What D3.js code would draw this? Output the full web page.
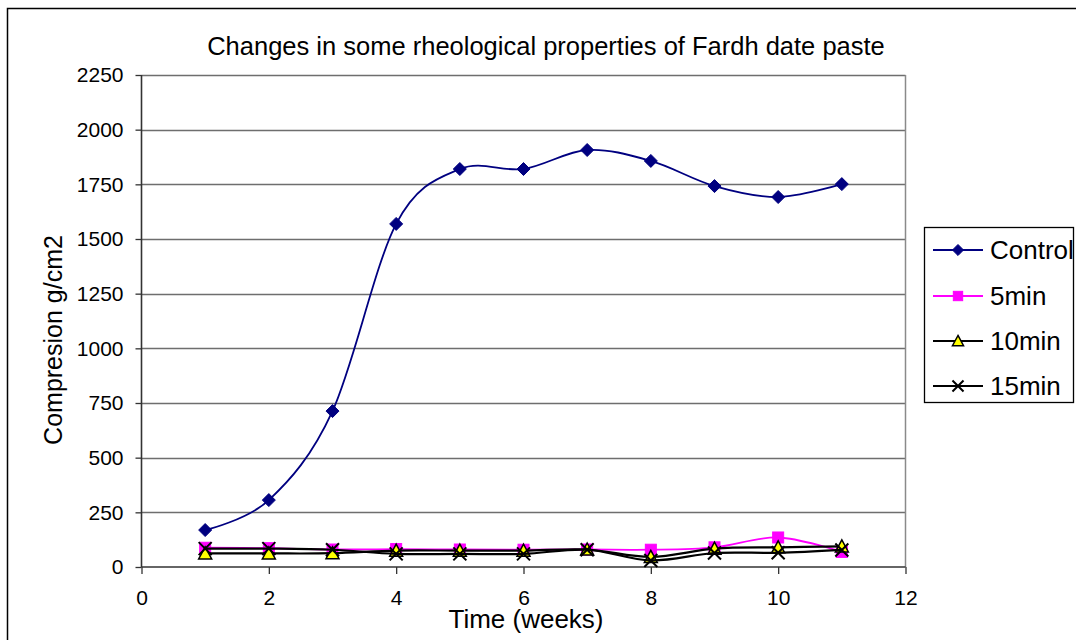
<!DOCTYPE html>
<html>
<head>
<meta charset="utf-8">
<script src="https://cdn.jsdelivr.net/npm/d3@7"></script>
<style>
  html, body { margin: 0; padding: 0; background: #fff; }
  svg { display: block; font-family: "Liberation Sans", Arial, sans-serif; }
</style>
</head>
<body>
<svg id="chart" width="1076" height="640"></svg>
<script>
// Weeks of storage
const weeks = [1, 2, 3, 4, 5, 6, 7, 8, 9, 10, 11];

// Compression (g/cm2) per treatment
const control = [169, 306, 713, 1569, 1820, 1820, 1907, 1857, 1742, 1692, 1751];
const min5    = [88, 86, 80, 82, 80, 79, 80, 79, 90, 135, 69];
const min10   = [62, 62, 63, 75, 75, 75, 80, 46, 84, 90, 94];
const min15   = [84, 84, 79, 60, 60, 60, 79, 30, 64, 65, 78];

const seriesNames = ["Control", "5min", "10min", "15min"];
const yTicks = [0, 250, 500, 750, 1000, 1250, 1500, 1750, 2000, 2250];
const xTicks = [0, 2, 4, 6, 8, 10, 12];

const titleText = "Changes in some rheological properties of Fardh date paste";
const xTitle = "Time (weeks)";
const yTitle = "Compresion g/cm2";

const svg = d3.select("#chart");

// chart frame
svg.append("rect")
  .attr("x", 7.5).attr("y", 8.5)
  .attr("width", 1100).attr("height", 700)
  .attr("fill", "#fff").attr("stroke", "#000").attr("stroke-width", 1.5);

const plot = { left: 141.5, right: 905.5, top: 75, bottom: 567 };

const x = d3.scaleLinear().domain([0, 12]).range([plot.left, plot.right]);
const y = d3.scaleLinear().domain([0, 2250]).range([plot.bottom, plot.top]);

// horizontal gridlines
svg.append("g")
  .selectAll("line")
  .data(yTicks.filter(d => d > 0))
  .join("line")
  .attr("x1", plot.left).attr("x2", plot.right)
  .attr("y1", d => Math.round(y(d)) + 0.5).attr("y2", d => Math.round(y(d)) + 0.5)
  .attr("stroke", "#6e6e6e").attr("stroke-width", 1.3);

// right border of plot area
svg.append("line")
  .attr("x1", plot.right).attr("x2", plot.right)
  .attr("y1", plot.top).attr("y2", plot.bottom)
  .attr("stroke", "#8a8a8a").attr("stroke-width", 1.5);

// axes
const yAxis = d3.axisLeft(y).tickValues(yTicks).tickSize(6).tickPadding(12).tickFormat(d3.format("d"));
const xAxis = d3.axisBottom(x).tickValues(xTicks).tickSize(7).tickPadding(16).tickFormat(d3.format("d"));

const gy = svg.append("g").attr("transform", `translate(${plot.left},0)`).call(yAxis);
const gx = svg.append("g").attr("transform", `translate(0,${plot.bottom})`).call(xAxis);

[gx, gy].forEach(g => {
  g.select(".domain").attr("stroke", "#333").attr("stroke-width", 1.6);
  g.selectAll(".tick line").attr("stroke", "#333").attr("stroke-width", 1.3);
  g.selectAll(".tick text")
    .attr("fill", "#000")
    .attr("font-family", "'Liberation Sans', Arial, sans-serif")
    .attr("font-size", 21);
});
gy.select(".domain").attr("d", `M0,${plot.top}V${plot.bottom}`);
gx.select(".domain").attr("d", `M${plot.left},0H${plot.right}`);

// titles
svg.append("text")
  .attr("x", 546).attr("y", 55)
  .attr("text-anchor", "middle")
  .attr("font-size", 25.5)
  .text(titleText);

svg.append("text")
  .attr("x", 526).attr("y", 628)
  .attr("text-anchor", "middle")
  .attr("font-size", 26)
  .text(xTitle);

svg.append("text")
  .attr("transform", "translate(62,340) rotate(-90)")
  .attr("text-anchor", "middle")
  .attr("font-size", 25)
  .text(yTitle);

// series
const curve = d3.curveCatmullRom.alpha(0);
const lineGen = d3.line().x(d => x(d[0])).y(d => y(d[1])).curve(curve);

const series = [
  { name: seriesNames[0], values: control, color: "#000080", width: 1.8, marker: "diamond" },
  { name: seriesNames[1], values: min5,    color: "#ff00ff", width: 1.8, marker: "square" },
  { name: seriesNames[2], values: min10,   color: "#000000", width: 2.2, marker: "triangle" },
  { name: seriesNames[3], values: min15,   color: "#000000", width: 2.2, marker: "cross" }
];

function drawMarker(g, type, cx, cy, scale) {
  const s = scale || 1;
  if (type === "diamond") {
    const r = 6.5 * s;
    g.append("path")
      .attr("d", `M${cx},${cy - r}L${cx + r},${cy}L${cx},${cy + r}L${cx - r},${cy}Z`)
      .attr("fill", "#000080").attr("stroke", "#000080").attr("stroke-width", 1);
  } else if (type === "square") {
    const r = 5.5 * s;
    g.append("rect")
      .attr("x", cx - r).attr("y", cy - r).attr("width", 2 * r).attr("height", 2 * r)
      .attr("fill", "#ff00ff").attr("stroke", "#ff00ff").attr("stroke-width", 1);
  } else if (type === "triangle") {
    const r = 6.5 * s;
    g.append("path")
      .attr("d", `M${cx},${cy - r}L${cx + r},${cy + r * 0.85}L${cx - r},${cy + r * 0.85}Z`)
      .attr("fill", "#ffff00").attr("stroke", "#000").attr("stroke-width", 1.5);
  } else if (type === "cross") {
    const r = 6.5 * s;
    g.append("path")
      .attr("d", `M${cx - r},${cy - r}L${cx + r},${cy + r}M${cx + r},${cy - r}L${cx - r},${cy + r}`)
      .attr("stroke", "#000").attr("stroke-width", 2).attr("fill", "none");
  }
}

series.forEach(s => {
  const pts = weeks.map((w, i) => [w, s.values[i]]);
  const g = svg.append("g");
  g.append("path")
    .datum(pts)
    .attr("d", lineGen)
    .attr("fill", "none")
    .attr("stroke", s.color)
    .attr("stroke-width", s.width);
  pts.forEach(p => drawMarker(g, s.marker, x(p[0]), y(p[1])));
});

// legend
const legend = svg.append("g");
legend.append("rect")
  .attr("x", 924.5).attr("y", 227.5).attr("width", 149).attr("height", 175)
  .attr("fill", "#fff").attr("stroke", "#000").attr("stroke-width", 1.3);

const rowY = [250, 296, 341, 386];
series.forEach((s, i) => {
  const ly = rowY[i];
  legend.append("line")
    .attr("x1", 933).attr("x2", 983).attr("y1", ly).attr("y2", ly)
    .attr("stroke", s.color).attr("stroke-width", s.width);
  drawMarker(legend, s.marker, 958, ly, 0.85);
  legend.append("text")
    .attr("x", 990).attr("y", ly)
    .attr("dy", "0.36em")
    .attr("font-size", 26)
    .text(s.name);
});
</script>
</body>
</html>
